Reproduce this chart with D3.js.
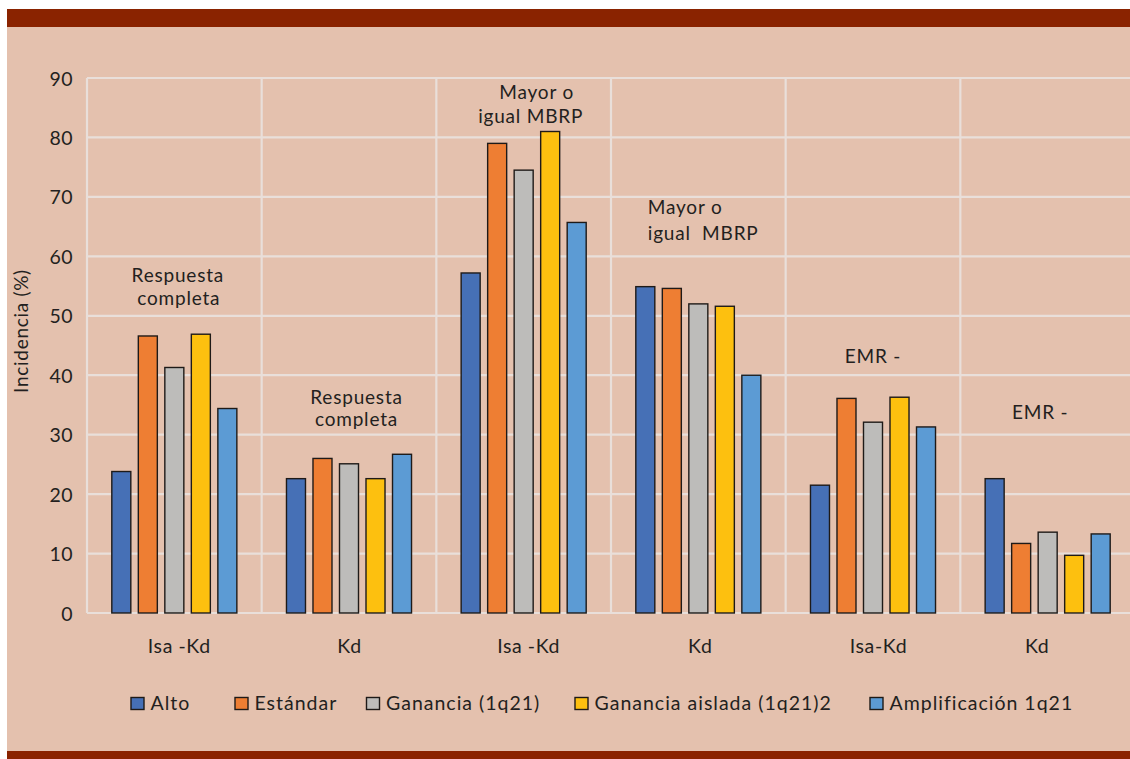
<!DOCTYPE html>
<html>
<head>
<meta charset="utf-8">
<script src="https://cdn.jsdelivr.net/npm/d3@7"></script>
<style>
  html, body { margin: 0; padding: 0; background: #ffffff; }
  svg { display: block; }
  text { font-family: Lato, "Open Sans", sans-serif; fill: #231f20; }
</style>
</head>
<body>
<svg id="chart" width="1130" height="759"></svg>
<script>
// ---- data ----
const groups = ["g1", "g2", "g3", "g4", "g5", "g6"];
const groupLabels = ["Isa -Kd", "Kd", "Isa -Kd", "Kd", "Isa-Kd", "Kd"];
const series = ["Alto", "Estándar", "Ganancia (1q21)", "Ganancia aislada (1q21)2", "Amplificación 1q21"];
const alto          = [23.8, 22.6, 57.2, 54.9, 21.5, 22.6];
const estandar      = [46.6, 26.0, 79.0, 54.6, 36.1, 11.7];
const ganancia      = [41.3, 25.1, 74.5, 52.0, 32.1, 13.6];
const gananciaAisl  = [46.9, 22.6, 81.0, 51.6, 36.3, 9.7];
const amplificacion = [34.4, 26.7, 65.7, 40.0, 31.3, 13.3];
const yTicks = [0, 10, 20, 30, 40, 50, 60, 70, 80, 90];
const annotationLines = [
  ["Respuesta", "completa"],
  ["Respuesta", "completa"],
  ["Mayor o", "igual MBRP"],
  ["Mayor o", "igual  MBRP"],
  ["EMR -"],
  ["EMR -"]
];
const annotationValue = [55.7, 35.2, 86.4, 67.1, 42.1, 32.6]; // baseline of first line, in data units

// ---- layout / style ----
const colors = ["#4670b6", "#ee7e33", "#bdbcba", "#fdc00f", "#5c9bd4"];
const seriesValues = [alto, estandar, ganancia, gananciaAisl, amplificacion];
const annotLayout = [
  {dx: [3.5, 4.5], anchor: "middle", gap: 23},
  {dx: [7.5, 7.5], anchor: "middle", gap: 22},
  {dx: [13, 7], anchor: "middle", gap: 24},
  {dx: [-50.5, -50.5], anchor: "start", gap: 26},
  {dx: [0], anchor: "middle", gap: 0},
  {dx: [-7.5], anchor: "middle", gap: 0}
];
const labelDx = [5, 0.5, 5, 2, 5.5, -10.5];

const svg = d3.select("#chart");
// frame
svg.append("rect").attr("x", 7).attr("y", 27).attr("width", 1123).attr("height", 724).attr("fill", "#e4c1ae");
svg.append("rect").attr("x", 7).attr("y", 9).attr("width", 1123).attr("height", 18).attr("fill", "#8a2300");
svg.append("rect").attr("x", 7).attr("y", 751).attr("width", 1123).attr("height", 8).attr("fill", "#8a2300");

const pLeft = 87, pRight = 1135, pTop = 78, pBottom = 613;
const x = d3.scaleBand().domain(groups).range([pLeft, pRight]).padding(0);
const xi = d3.scaleBand().domain(series).range([0, x.bandwidth()]).paddingInner(0.283).paddingOuter(0.936);
const y = d3.scaleLinear().domain([0, 90]).range([pBottom, pTop]);

const grid = svg.append("g").attr("stroke", "#e9dfda").attr("stroke-width", 2.2);
grid.selectAll("line.h").data(yTicks).join("line")
  .attr("x1", pLeft).attr("x2", pRight)
  .attr("y1", d => y(d)).attr("y2", d => y(d));
grid.selectAll("line.v").data(groups).join("line")
  .attr("x1", d => x(d)).attr("x2", d => x(d))
  .attr("y1", y(0)).attr("y2", y(90));

// y axis
const yAxis = d3.axisLeft(y).tickValues(yTicks).tickSize(0).tickPadding(14);
const ya = svg.append("g").attr("transform", `translate(${pLeft},0)`).call(yAxis);
ya.select(".domain").remove();
ya.selectAll("text").attr("font-size", 19.5).attr("font-family", "Lato, sans-serif").attr("fill", "#231f20")
  .attr("dy", "0.36em").attr("letter-spacing", 0.5);

svg.append("text").attr("transform", `translate(28,331) rotate(-90)`)
  .attr("text-anchor", "middle").attr("font-size", 19).attr("letter-spacing", 0.7).text("Incidencia (%)");

// bars
const barG = svg.append("g");
groups.forEach((g, gi) => {
  barG.selectAll(null).data(series).join("rect")
    .attr("x", s => x(g) + xi(s))
    .attr("width", xi.bandwidth())
    .attr("y", (s, si) => y(seriesValues[si][gi]))
    .attr("height", (s, si) => y(0) - y(seriesValues[si][gi]))
    .attr("fill", (s, si) => colors[si])
    .attr("stroke", "#1e1a18").attr("stroke-width", 1.4);
});

// x labels
svg.append("g").selectAll("text").data(groups).join("text")
  .attr("x", (d, i) => x(d) + x.bandwidth() / 2 + labelDx[i])
  .attr("y", 652.5)
  .attr("text-anchor", "middle").attr("font-size", 19.5).attr("letter-spacing", 0.6)
  .text((d, i) => groupLabels[i]);

// annotations
groups.forEach((g, gi) => {
  const lay = annotLayout[gi];
  annotationLines[gi].forEach((line, li) => {
    svg.append("text")
      .attr("x", x(g) + x.bandwidth() / 2 + lay.dx[li])
      .attr("y", y(annotationValue[gi]) + li * lay.gap)
      .attr("text-anchor", lay.anchor)
      .attr("font-size", 19).attr("letter-spacing", 0.8)
      .style("white-space", "pre")
      .text(line);
  });
});

// legend
const legendX = [131, 235, 366.5, 575, 870];
const lg = svg.append("g");
series.forEach((s, i) => {
  lg.append("rect").attr("x", legendX[i]).attr("y", 697.5).attr("width", 13).attr("height", 12)
    .attr("fill", colors[i]).attr("stroke", "#1e1a18").attr("stroke-width", 1.4);
  lg.append("text").attr("x", legendX[i] + 19.5).attr("y", 710).attr("font-size", 19.5)
    .attr("letter-spacing", 1).text(s);
});
</script>
</body>
</html>
